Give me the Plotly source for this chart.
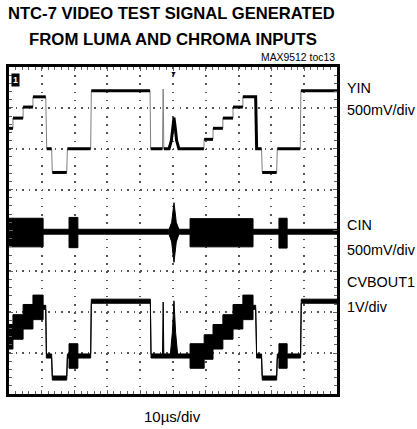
import plotly.graph_objects as go

# ---- data (scope divisions: x 0..10, y 0..8) ----
YIN_X = [0.00, 0.12, 0.12, 0.43, 0.43, 0.73, 0.73, 1.12, 1.15, 1.30, 1.32, 1.76, 1.78, 2.49, 2.51,
         4.30, 4.32, 4.68, 4.70, 4.72, 4.88, 4.95, 4.99, 5.03, 5.07, 5.11, 5.18, 5.94, 5.95, 6.22,
         6.22, 6.52, 6.52, 6.83, 6.83, 7.13, 7.13, 7.52, 7.55, 7.70, 7.72, 8.16, 8.18, 8.88, 8.90, 10.0]
YIN_Y = [6.50, 6.50, 6.75, 6.75, 7.02, 7.02, 7.27, 7.27, 6.00, 6.00, 5.42, 5.42, 6.00, 6.00, 7.42,
         7.42, 6.00, 6.00, 7.46, 6.00, 6.00, 6.20, 6.50, 6.76, 6.50, 6.20, 6.00, 6.00, 6.23, 6.23,
         6.50, 6.50, 6.75, 6.75, 7.02, 7.02, 7.27, 7.27, 6.00, 6.00, 5.42, 5.42, 6.00, 6.00, 7.42, 7.42]

CIN_X  = [0.00, 1.04, 1.04, 1.83, 1.83, 2.10, 2.10, 4.88, 4.96, 5.00, 5.03, 5.06, 5.10, 5.18,
          5.52, 5.52, 7.44, 7.44, 8.23, 8.23, 8.48, 8.48, 10.0]
CIN_UP = [4.30, 4.30, 4.03, 4.03, 4.32, 4.32, 4.03, 4.03, 4.20, 4.48, 4.68, 4.48, 4.20, 4.03,
          4.03, 4.29, 4.29, 4.03, 4.03, 4.30, 4.30, 4.03, 4.03]
CIN_LO = [3.60, 3.60, 3.91, 3.91, 3.58, 3.58, 3.91, 3.91, 3.72, 3.42, 3.22, 3.42, 3.72, 3.91,
          3.91, 3.60, 3.60, 3.91, 3.91, 3.57, 3.57, 3.91, 3.91]

CVB_X  = [0.00, 0.12, 0.12, 0.43, 0.43, 0.73, 0.73, 1.04, 1.04, 1.12, 1.14, 1.30, 1.32, 1.76,
          1.78, 1.83, 1.83, 2.10, 2.10, 2.49, 2.51, 4.31, 4.33, 4.68, 4.70, 4.72, 4.92, 4.98,
          5.03, 5.08, 5.14, 5.52, 5.52, 5.95, 5.95, 6.22, 6.22, 6.52, 6.52, 6.83, 6.83, 7.13,
          7.13, 7.44, 7.44, 7.52, 7.55, 7.70, 7.72, 8.16, 8.18, 8.23, 8.23, 8.48, 8.48, 8.89,
          8.91, 10.0]
CVB_UP = [1.70, 1.70, 1.94, 1.94, 2.19, 2.19, 2.42, 2.42, 2.17, 2.17, 0.98, 0.98, 0.44, 0.44,
          0.98, 0.98, 1.23, 1.23, 0.98, 0.98, 2.32, 2.32, 0.98, 0.98, 2.25, 0.98, 0.98, 1.50,
          2.28, 1.50, 0.98, 0.98, 1.23, 1.23, 1.45, 1.45, 1.70, 1.70, 1.94, 1.94, 2.19, 2.19,
          2.42, 2.42, 2.17, 2.17, 0.98, 0.98, 0.44, 0.44, 0.98, 0.98, 1.23, 1.23, 0.98, 0.98,
          2.32, 2.32]
CVB_LO = [1.10, 1.10, 1.34, 1.34, 1.59, 1.59, 1.82, 1.82, 2.07, 2.07, 0.88, 0.88, 0.34, 0.34,
          0.88, 0.88, 0.63, 0.63, 0.88, 0.88, 2.22, 2.22, 0.88, 0.88, 0.88, 0.88, 0.88, 0.88,
          0.88, 0.88, 0.88, 0.88, 0.63, 0.63, 0.85, 0.85, 1.10, 1.10, 1.34, 1.34, 1.59, 1.59,
          1.82, 1.82, 2.07, 2.07, 0.88, 0.88, 0.34, 0.34, 0.88, 0.88, 0.63, 0.63, 0.88, 0.88,
          2.22, 2.22]

TITLE_1 = "NTC-7 VIDEO TEST SIGNAL GENERATED"
TITLE_2 = "FROM LUMA AND CHROMA INPUTS"
TOC = "MAX9512 toc13"
LABELS = [("YIN", 0.936), ("500mV/div", 0.869), ("CIN", 0.517), ("500mV/div", 0.440),
          ("CVBOUT1", 0.343), ("1V/div", 0.266)]
X_LABEL = "10µs/div"

fig = go.Figure()

# YIN: thin grey full sweep + thick black on the flat parts
fig.add_trace(go.Scatter(x=YIN_X, y=YIN_Y, mode="lines",
                         line=dict(color="#808080", width=1), hoverinfo="skip"))
tx, ty = [], []
for i in range(len(YIN_X)):
    if i > 0 and abs(YIN_X[i] - YIN_X[i - 1]) < 0.03 and abs(YIN_Y[i] - YIN_Y[i - 1]) > 0.1:
        tx.append(None); ty.append(None)
    tx.append(YIN_X[i]); ty.append(YIN_Y[i])
fig.add_trace(go.Scatter(x=tx, y=ty, mode="lines",
                         line=dict(color="black", width=3), hoverinfo="skip"))


def envelope(xs, up, lo):
    return xs + xs[::-1], up + lo[::-1]


for xs, up, lo in [(CIN_X, CIN_UP, CIN_LO), (CVB_X, CVB_UP, CVB_LO)]:
    px, py = envelope(xs, up, lo)
    fig.add_trace(go.Scatter(x=px, y=py, mode="lines", fill="toself", fillcolor="black",
                             line=dict(color="black", width=1), hoverinfo="skip"))

FONT = "Liberation Sans, Arial, sans-serif"
ann = []
ann.append(dict(text="<b>" + TITLE_1 + "</b>", x=0.494, y=1.165, xref="paper", yref="paper",
                showarrow=False, xanchor="center", yanchor="middle",
                font=dict(family=FONT, size=16.6, color="black")))
ann.append(dict(text="<b>" + TITLE_2 + "</b>", x=0.50, y=1.083, xref="paper", yref="paper",
                showarrow=False, xanchor="center", yanchor="middle",
                font=dict(family=FONT, size=16.8, color="black")))
ann.append(dict(text=TOC, x=1.0, y=1.028, xref="paper", yref="paper", showarrow=False,
                xanchor="right", yanchor="middle", font=dict(family=FONT, size=10.4, color="black")))
for t, yy in LABELS:
    ann.append(dict(text=t, x=1.024, y=yy, xref="paper", yref="paper", showarrow=False,
                    xanchor="left", yanchor="middle",
                    font=dict(family=FONT, size=14.4, color="black")))
ann.append(dict(text=X_LABEL, x=0.497, y=-0.070, xref="paper", yref="paper", showarrow=False,
                xanchor="center", yanchor="middle", font=dict(family=FONT, size=15, color="black")))
# channel-1 marker and trigger marker
ann.append(dict(text="<b>1</b>", x=0.21, y=7.68, xref="x", yref="y", showarrow=False,
                bgcolor="black", borderpad=1, font=dict(family=FONT, size=9, color="white")))
ann.append(dict(text="▼", x=5.0, y=8.0, xref="x", yref="y", showarrow=False, yanchor="top",
                font=dict(size=7, color="black")))

fig.update_layout(
    width=417, height=429,
    margin=dict(l=9, r=80, t=67, b=35),
    paper_bgcolor="white", plot_bgcolor="white",
    showlegend=False,
    annotations=ann,
    xaxis=dict(range=[0, 10], dtick=1, showgrid=True, gridcolor="#555555", gridwidth=1.5,
               griddash="1.5px,6.675px", zeroline=False, showticklabels=False,
               showline=True, linecolor="black", linewidth=3, mirror="ticks",
               ticks="inside", ticklen=4, tickcolor="#606060",
               minor=dict(dtick=0.2, ticks="inside", ticklen=3, tickcolor="#606060", showgrid=False)),
    yaxis=dict(range=[0, 8], dtick=1, showgrid=True, gridcolor="#555555", gridwidth=1.5,
               griddash="1.5px,5.06px", zeroline=False, showticklabels=False,
               showline=True, linecolor="black", linewidth=3, mirror="ticks",
               ticks="inside", ticklen=4, tickcolor="#606060",
               minor=dict(dtick=0.2, ticks="inside", ticklen=3, tickcolor="#606060", showgrid=False)),
)

fig.write_html("out.html", config={"displayModeBar": False},
               post_script="document.body.style.margin='0px';")
